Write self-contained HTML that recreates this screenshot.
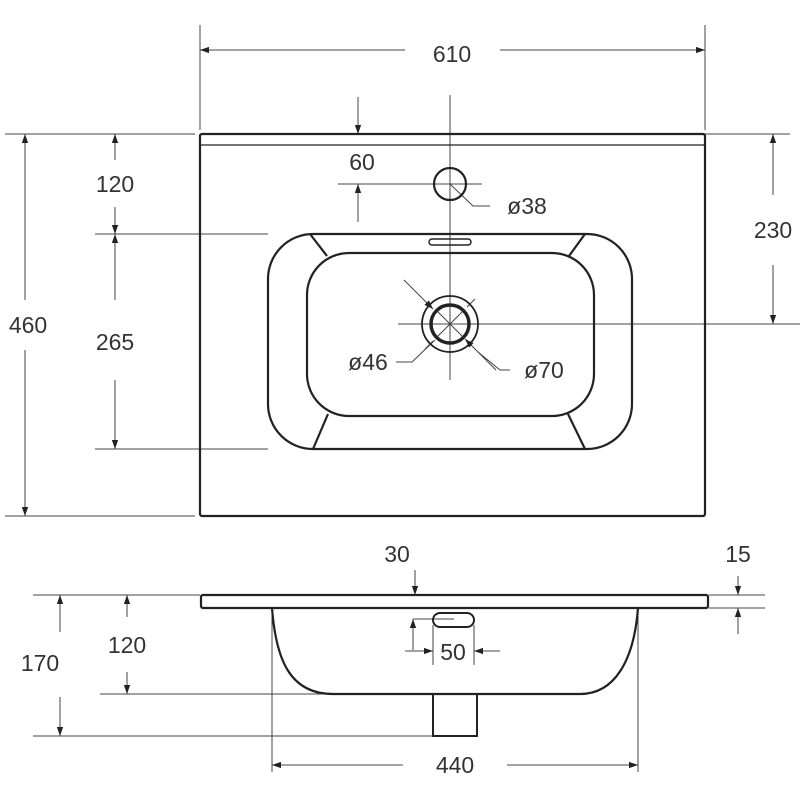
<!DOCTYPE html>
<html><head><meta charset="utf-8"><style>html,body{margin:0;padding:0;background:#fff}svg{display:block}</style></head><body>
<svg width="800" height="800" viewBox="0 0 800 800" xmlns="http://www.w3.org/2000/svg">
<defs>
<marker id="a" viewBox="0 0 10 10" refX="10" refY="5" markerWidth="9" markerHeight="9" orient="auto-start-reverse" markerUnits="userSpaceOnUse"><path d="M0,1.5 L10,5 L0,8.5 z" fill="#222"/></marker>
</defs>
<g fill="none" stroke="#222">
<g stroke-width="1" stroke="#444">
<line x1="200" y1="25" x2="200" y2="130"/><line x1="705" y1="25" x2="705" y2="130"/>
<line x1="200" y1="50" x2="405" y2="50" marker-start="url(#a)"/><line x1="500" y1="50" x2="705" y2="50" marker-end="url(#a)"/>
<line x1="5" y1="134" x2="195" y2="134"/><line x1="5" y1="516" x2="195" y2="516"/>
<line x1="25" y1="134" x2="25" y2="300" marker-start="url(#a)"/><line x1="25" y1="350" x2="25" y2="516" marker-end="url(#a)"/>
<line x1="115" y1="134" x2="115" y2="160" marker-start="url(#a)"/><line x1="115" y1="207" x2="115" y2="234" marker-end="url(#a)"/>
<line x1="115" y1="234" x2="115" y2="300" marker-start="url(#a)"/><line x1="115" y1="380" x2="115" y2="449" marker-end="url(#a)"/>
<line x1="95" y1="234" x2="268" y2="234"/><line x1="95" y1="449" x2="268" y2="449"/>
<line x1="705" y1="134" x2="790" y2="134"/>
<line x1="773" y1="134" x2="773" y2="195" marker-start="url(#a)"/><line x1="773" y1="265" x2="773" y2="324" marker-end="url(#a)"/>
<line x1="398" y1="324" x2="800" y2="324"/>
<line x1="450" y1="95" x2="450" y2="380"/>
<line x1="338" y1="184" x2="482" y2="184"/>
<line x1="358" y1="97" x2="358" y2="134" marker-end="url(#a)"/>
<line x1="358" y1="222" x2="358" y2="184" marker-end="url(#a)"/>
<polyline points="450,184 473,206 490,206"/>
<line x1="404" y1="280" x2="433" y2="309" marker-end="url(#a)"/>
<line x1="496" y1="370" x2="465" y2="339" marker-end="url(#a)"/>
<line x1="467" y1="307" x2="475" y2="299"/>
<line x1="433" y1="341" x2="425" y2="349"/>
<polyline points="435,340 412,362 396,362"/>
<polyline points="478,352 500,370 510,370"/>
<line x1="436" y1="310" x2="464" y2="338"/>
<line x1="464" y1="310" x2="436" y2="338"/>
<line x1="33" y1="595" x2="200" y2="595"/><line x1="33" y1="736" x2="433" y2="736"/>
<line x1="100" y1="694" x2="333" y2="694"/>
<line x1="60" y1="595" x2="60" y2="632" marker-start="url(#a)"/><line x1="60" y1="697" x2="60" y2="736" marker-end="url(#a)"/>
<line x1="127" y1="595" x2="127" y2="617" marker-start="url(#a)"/><line x1="127" y1="672" x2="127" y2="694" marker-end="url(#a)"/>
<line x1="709" y1="595" x2="765" y2="595"/><line x1="709" y1="608" x2="765" y2="608"/>
<line x1="738" y1="576" x2="738" y2="595" marker-end="url(#a)"/><line x1="738" y1="634" x2="738" y2="608" marker-end="url(#a)"/>
<line x1="415" y1="570" x2="415" y2="595" marker-end="url(#a)"/>
<line x1="413" y1="619" x2="454" y2="619"/>
<line x1="413" y1="650" x2="413" y2="619" marker-end="url(#a)"/>
<line x1="433" y1="625" x2="433" y2="665"/><line x1="474" y1="625" x2="474" y2="665"/>
<line x1="405" y1="651" x2="433" y2="651" marker-end="url(#a)"/><line x1="500" y1="651" x2="474" y2="651" marker-end="url(#a)"/>
<line x1="272" y1="608" x2="272" y2="772"/><line x1="638" y1="608" x2="638" y2="772"/>
<line x1="272" y1="765" x2="403" y2="765" marker-start="url(#a)"/><line x1="507" y1="765" x2="638" y2="765" marker-end="url(#a)"/>
</g>
<g stroke-width="2.2">
<rect x="200" y="134" width="505" height="382" rx="2"/>
<line x1="201" y1="145" x2="704" y2="145" stroke-width="1.2"/>
<rect x="268" y="234" width="364" height="215" rx="45"/>
<rect x="307" y="253" width="287" height="163" rx="42"/>
<line x1="310" y1="234" x2="327" y2="256"/><line x1="585" y1="234" x2="569" y2="256"/>
<line x1="313" y1="449" x2="328" y2="414"/><line x1="585" y1="449" x2="568" y2="414"/>
<rect x="429" y="239" width="42" height="6" rx="3" stroke-width="1.5"/>
<circle cx="450" cy="184" r="16"/>
<circle cx="450" cy="324" r="28" stroke-width="1.8"/>
<circle cx="450" cy="324" r="19" stroke-width="3.5"/>
</g>
<g stroke-width="2.2">
<rect x="201" y="595" width="507" height="13" rx="2"/>
<path d="M272,608 C276,660 290,694 333,694 L580,694 C615,694 634,660 638,608"/>
<rect x="433" y="694" width="44" height="42" stroke-width="2"/>
<rect x="433" y="613" width="41" height="14" rx="7" stroke-width="2"/>
</g>
</g>
<g font-family="Liberation Sans, sans-serif" font-size="23" fill="#333" text-anchor="middle" dominant-baseline="central">
<text x="452" y="54">610</text>
<text x="28" y="325">460</text>
<text x="115" y="184">120</text>
<text x="115" y="342">265</text>
<text x="773" y="230">230</text>
<text x="362" y="162">60</text>
<text x="527" y="206">ø38</text>
<text x="368" y="362">ø46</text>
<text x="544" y="370">ø70</text>
<text x="397" y="554">30</text>
<text x="738" y="554">15</text>
<text x="40" y="663">170</text>
<text x="127" y="645">120</text>
<text x="453" y="652">50</text>
<text x="455" y="765">440</text>
</g>
</svg>
</body></html>
